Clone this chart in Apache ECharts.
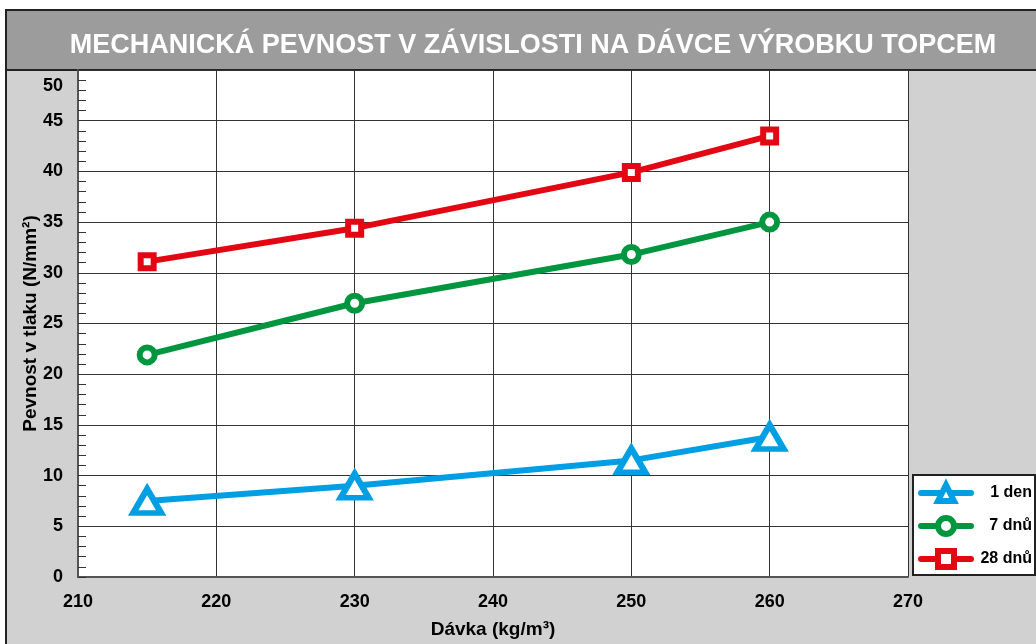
<!DOCTYPE html>
<html>
<head>
<meta charset="utf-8">
<title>Mechanická pevnost</title>
<script src="https://cdn.jsdelivr.net/npm/echarts@6/dist/echarts.min.js"></script>
<style>
  html, body { margin: 0; padding: 0; background: #fff; }
  #chart { width: 1036px; height: 644px; }
</style>
</head>
<body>
<div id="chart"></div>
<script>
// dávka (kg/m3)
const davka = [215, 230, 250, 260]
// pevnost v tlaku (N/mm2)
const den1 = [7.5, 9.0, 11.5, 13.8]
const dnu7 = [21.9, 27.0, 31.8, 35.0]
const dnu28 = [31.1, 34.4, 39.9, 43.5]

const seriesNames = ['1 den', '7 dnů', '28 dnů']
const seriesColors = ['#009fe3', '#009640', '#e30613']

const FONT = '"Liberation Sans", Arial, sans-serif'

const chart = echarts.init(document.getElementById('chart'))

function toPoints(values) {
  return davka.map((x, i) => [x, values[i]])
}

function lineSeries(name, values, color, symbol, size, border) {
  return {
    name: name,
    type: 'line',
    data: toPoints(values),
    symbol: symbol,
    symbolSize: size,
    showSymbol: true,
    z: 3,
    lineStyle: { color: color, width: 6, cap: 'round' },
    itemStyle: { color: '#fff', borderColor: color, borderWidth: border },
    emphasis: { disabled: true }
  }
}

const option = {
  backgroundColor: '#fff',
  animation: false,
  textStyle: { fontFamily: FONT },
  graphic: [
    {
      // šedé pozadí s rámečkem
      type: 'rect',
      z: -10,
      shape: { x: 6, y: 10, width: 1040, height: 640 },
      style: { fill: '#d1d1d1', stroke: '#222', lineWidth: 2 }
    },
    {
      // pruh s nadpisem
      type: 'rect',
      z: -9,
      shape: { x: 6, y: 10, width: 1040, height: 60 },
      style: { fill: '#9c9c9c', stroke: '#222', lineWidth: 2 }
    }
  ],
  title: {
    text: 'MECHANICKÁ PEVNOST V ZÁVISLOSTI NA DÁVCE VÝROBKU TOPCEM',
    left: 528,
    textAlign: 'center',
    top: 27,
    textStyle: {
      color: '#fff',
      fontFamily: FONT,
      fontWeight: 'bold',
      fontSize: 27
    }
  },
  legend: {
    data: seriesNames,
    orient: 'vertical',
    left: 913,
    top: 475,
    padding: [7, 3, 5, 5],
    itemGap: 11,
    itemWidth: 50,
    itemHeight: 20,
    backgroundColor: '#fff',
    borderColor: '#222',
    borderWidth: 2,
    borderRadius: 0,
    itemStyle: { borderWidth: 6 },
    lineStyle: { width: 6, cap: 'round' },
    formatter: name => '{t|' + name + '}',
    textStyle: {
      rich: {
        t: {
          width: 56,
          align: 'right',
          fontFamily: FONT,
          fontWeight: 'bold',
          fontSize: 16,
          color: '#000'
        }
      }
    }
  },
  grid: {
    left: 78,
    top: 70,
    width: 830,
    height: 507,
    show: true,
    backgroundColor: '#fff',
    borderWidth: 0
  },
  xAxis: {
    type: 'value',
    min: 210,
    max: 270,
    interval: 10,
    name: 'Dávka (kg/m³)',
    nameLocation: 'middle',
    nameGap: 43,
    nameTextStyle: { color: '#000', fontWeight: 'bold', fontSize: 19, fontFamily: FONT },
    axisLine: { show: true, lineStyle: { color: '#555', width: 2 } },
    axisTick: { show: false },
    axisLabel: {
      margin: 16,
      color: '#000',
      fontWeight: 'bold',
      fontSize: 18,
      fontFamily: FONT
    },
    splitLine: { show: true, lineStyle: { color: '#333', width: 1 } }
  },
  yAxis: {
    type: 'value',
    min: 0,
    max: 50,
    interval: 5,
    name: 'Pevnost v tlaku (N/mm²)',
    nameLocation: 'middle',
    nameGap: 38,
    nameMoveOverlap: false,
    nameTextStyle: { color: '#000', fontWeight: 'bold', fontSize: 19, fontFamily: FONT },
    axisLine: { show: true, lineStyle: { color: '#555', width: 2 } },
    axisTick: { show: true, inside: true, length: 8, lineStyle: { color: '#333', width: 1 } },
    minorTick: { show: true, splitNumber: 5, length: 8, lineStyle: { color: '#333', width: 1 } },
    minorSplitLine: { show: false },
    axisLabel: {
      margin: 15,
      color: '#000',
      fontWeight: 'bold',
      fontSize: 18,
      fontFamily: FONT,
      formatter: v => (v === 50 ? '{top|50}' : String(v)),
      rich: {
        top: {
          padding: [32, 0, 0, 0],
          color: '#000',
          fontWeight: 'bold',
          fontSize: 18,
          fontFamily: FONT
        }
      }
    },
    splitLine: { show: true, lineStyle: { color: '#333', width: 1 } }
  },
  series: [
    lineSeries(seriesNames[0], den1, seriesColors[0], 'triangle', [28, 24], 6),
    lineSeries(seriesNames[1], dnu7, seriesColors[1], 'circle', 15, 6),
    lineSeries(seriesNames[2], dnu28, seriesColors[2], 'rect', 13, 6)
  ]
}

chart.setOption(option)
</script>
</body>
</html>
